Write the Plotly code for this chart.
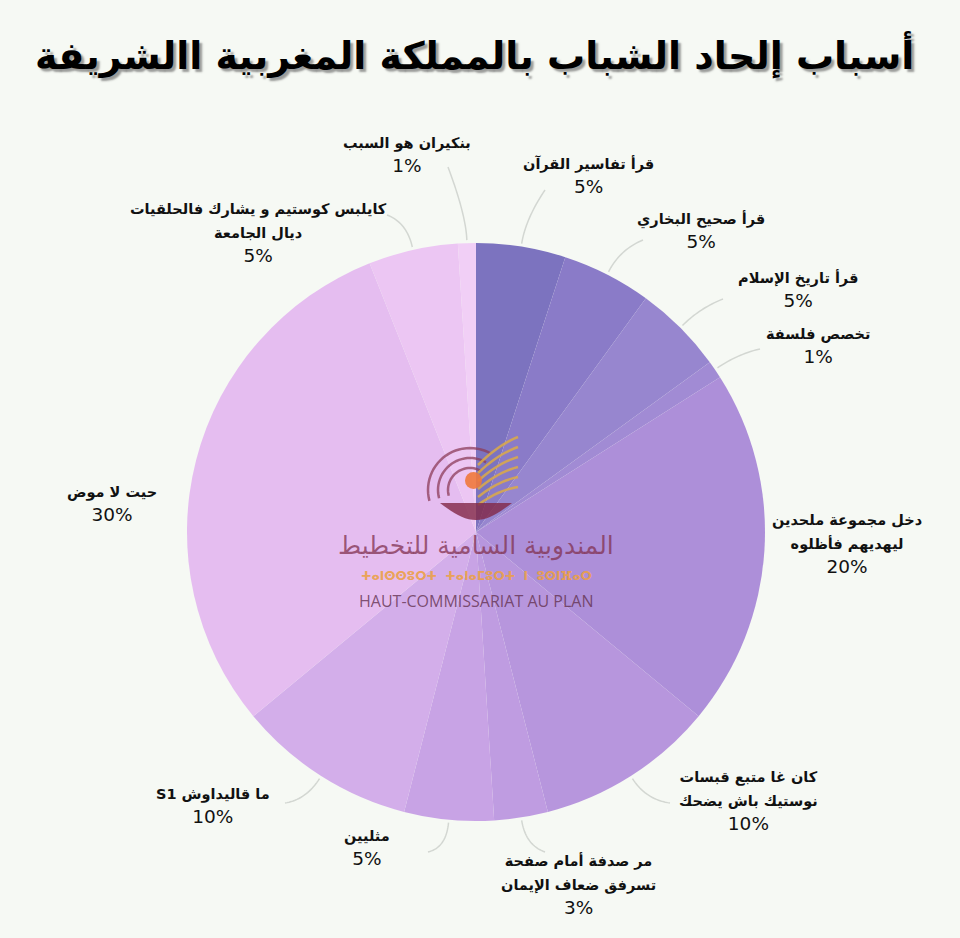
import math
import plotly.graph_objects as go

W, H = 960, 938

# ---------------- data ----------------
title = "أسباب إلحاد الشباب بالمملكة المغربية االشريفة"
labels = [
    "قرأ تفاسير القرآن",
    "قرأ صحيح البخاري",
    "قرأ تاريخ الإسلام",
    "تخصص فلسفة",
    "دخل مجموعة ملحدين<br>ليهديهم فأظلوه",
    "كان غا متبع قبسات<br>نوستيك باش يضحك",
    "مر صدفة أمام صفحة<br>تسرفق ضعاف الإيمان",
    "مثليين",
    "\u202Bما قاليداوش S1\u202C",
    "حيت لا موض",
    "كايلبس كوستيم و يشارك فالحلقيات<br>ديال الجامعة",
    "بنكيران هو السبب",
]
values = [5, 5, 5, 1, 20, 10, 3, 5, 10, 30, 5, 1]
colors = ["#7c73bf", "#8a7bc8", "#9786cf", "#a18bd4", "#ad8fd9", "#b796dd",
          "#bf9ce1", "#c8a3e5", "#d3aeea", "#e5bdf0", "#ecc6f3", "#f1cff6"]

# ---------------- layout helpers (pixel -> paper) ----------------
def px(x):
    return x / W

def py(y):
    return 1 - y / H

CX, CY, R = 476, 532, 289

# label block centres and connector end points (layout only)
label_pos = [(588, 176), (701, 231), (798, 290), (818, 346), (847, 544),
             (748, 801), (578, 885), (367, 848), (213, 806), (112, 504),
             (258, 234), (407, 156)]
conn_end = [(545, 190), (643, 240), (723, 299), (760, 349), None,
            (670, 803), (545, 852), (428, 852), (285, 803), None,
            (387, 215), (448, 167)]

fig = go.Figure()
fig.add_trace(go.Pie(
    labels=[l.replace("<br>", " ") for l in labels],
    values=values,
    sort=False,
    direction="clockwise",
    rotation=0,
    textinfo="none",
    hoverinfo="label+percent",
    marker=dict(colors=colors, line=dict(width=0)),
    domain=dict(x=[px(CX - R), px(CX + R)], y=[py(CY + R), py(CY - R)]),
    showlegend=False,
))

annotations = []
shapes = []

# title with shadow
annotations.append(dict(
    x=px(474), y=py(55), xref="paper", yref="paper",
    text="<b>" + title + "</b>", showarrow=False,
    font=dict(family="DejaVu Sans", size=38, color="#000000",
              shadow="3px 3px 2px rgba(80,80,80,0.55)"),
    xanchor="center", yanchor="middle"))

total = sum(values)
cum = 0
for i, (lab, v) in enumerate(zip(labels, values)):
    mid = (cum + v / 2) / total * 2 * math.pi
    cum += v
    lx, ly = label_pos[i]
    pct = f"{round(v / total * 100)}%"
    lines = lab.split("<br>")
    txt = "<br>".join(f"<span style='font-size:14.5px'><b>{ln}</b></span>" for ln in lines)
    annotations.append(dict(
        x=px(lx), y=py(ly), xref="paper", yref="paper",
        text=f"{txt}<br>{pct}",
        showarrow=False, align="center",
        font=dict(family="DejaVu Sans", size=18.5, color="#111111"),
        xanchor="center", yanchor="middle"))
    if conn_end[i] is not None:
        sx = CX + (R + 3) * math.sin(mid)
        sy = CY - (R + 3) * math.cos(mid)
        cx = CX + (R + 28) * math.sin(mid)
        cy = CY - (R + 28) * math.cos(mid)
        ex, ey = conn_end[i]
        pts = []
        for k in range(21):
            t = k / 20
            bx = (1 - t) ** 2 * sx + 2 * (1 - t) * t * cx + t ** 2 * ex
            by = (1 - t) ** 2 * sy + 2 * (1 - t) * t * cy + t ** 2 * ey
            pts.append(f"{px(bx):.5f},{py(by):.5f}")
        shapes.append(dict(type="path", xref="paper", yref="paper",
                           path="M " + " L ".join(pts),
                           line=dict(color="#d3d7d2", width=1.5)))

# ---------------- watermark logo (decorative) ----------------
def poly(points, close=False):
    s = "M " + " L ".join(f"{px(x):.5f},{py(y):.5f}" for x, y in points)
    return s + (" Z" if close else "")

# arcs
for rr in (22, 32, 42):
    pts = [(470 + rr * math.cos(math.radians(a)), 490 - rr * math.sin(math.radians(a)))
           for a in range(60, 200, 5)]
    shapes.append(dict(type="path", xref="paper", yref="paper", path=poly(pts),
                       line=dict(color="rgba(140,60,90,0.75)", width=2.5)))
# wheat strokes
for k in range(6):
    pts = []
    for a in range(0, 11):
        t = a / 10
        x = 478 + 40 * t
        y = 505 - 8 * k - 30 * t + 12 * t * t - k * 2 * t
        pts.append((x, y))
    shapes.append(dict(type="path", xref="paper", yref="paper", path=poly(pts),
                       line=dict(color="rgba(220,170,70,0.85)", width=2.5)))
# bowl
bowl = [(440 + 72 * t / 20, 503 + 17 * math.sin(math.pi * t / 20)) for t in range(21)]
shapes.append(dict(type="path", xref="paper", yref="paper", path=poly(bowl, True),
                   fillcolor="rgba(130,40,70,0.8)", line=dict(width=0)))
# face
shapes.append(dict(type="circle", xref="paper", yref="paper",
                   x0=px(465), x1=px(482), y0=py(489), y1=py(472),
                   fillcolor="rgba(240,120,60,0.9)", line=dict(width=0)))

annotations += [
    dict(x=px(476), y=py(546), xref="paper", yref="paper", showarrow=False,
         text="المندوبية السامية للتخطيط",
         font=dict(family="DejaVu Sans", size=25, color="rgba(130,50,80,0.75)")),
    dict(x=px(476), y=py(576), xref="paper", yref="paper", showarrow=False,
         text="<b>ⵜⴰⵏⵙⵙⵓⵔⵜ  ⵜⴰⵏⴰⵎⵓⵔⵜ  ⵏ  ⵓⵙⵏⴼⴰⵔ</b>",
         font=dict(family="DejaVu Sans", size=12, color="rgba(235,160,70,0.9)")),
    dict(x=px(476), y=py(601), xref="paper", yref="paper", showarrow=False,
         text="HAUT-COMMISSARIAT AU PLAN",
         font=dict(family="Open Sans", size=16, color="rgba(100,50,80,0.8)")),
]

fig.update_layout(
    width=W, height=H,
    margin=dict(l=0, r=0, t=0, b=0),
    paper_bgcolor="#f6f9f4",
    plot_bgcolor="#f6f9f4",
    annotations=annotations,
    shapes=shapes,
    showlegend=False,
)

fig.write_html("out.html")
